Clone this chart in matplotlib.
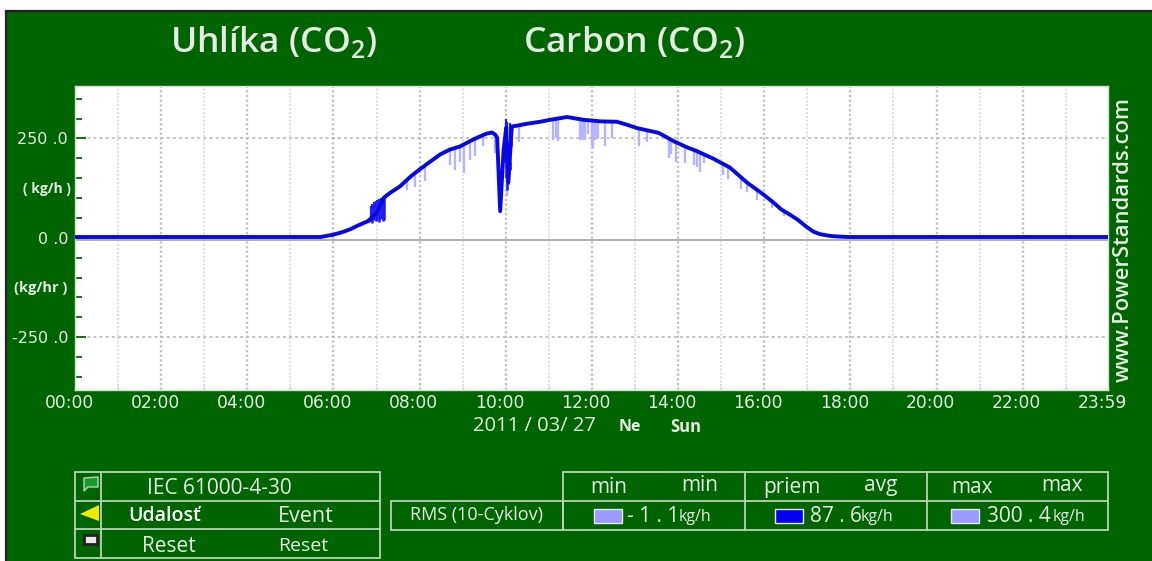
#!/usr/bin/env python3
import numpy as np
import matplotlib
matplotlib.use('Agg')
import matplotlib.pyplot as plt
from matplotlib.patches import Rectangle, Polygon
from matplotlib.transforms import ScaledTranslation

plt.rcParams['font.family'] = ['Open Sans', 'DejaVu Sans']
plt.rcParams['mathtext.fontset'] = 'custom'
plt.rcParams['mathtext.rm'] = 'Open Sans:weight=600'

W, H = 1152, 561
GREEN = '#006400'
LINE = '#b9d3b4'
TXT = '#e4eee2'

# average curve (hour of day, kg/h)
avg_hours = [0, 2, 4, 5.7, 6.0, 6.2, 6.4, 6.55, 6.8, 7.0, 7.1, 7.16, 7.3, 7.55, 7.8, 8.0, 8.2,
             8.48, 8.7, 8.94, 9.2, 9.4, 9.55, 9.68, 9.75, 9.8,
             9.87, 9.95, 10.01, 10.06, 10.14, 10.3, 10.49, 10.8, 11.03, 11.2, 11.42, 11.8,
             12.0, 12.2, 12.58, 12.8, 13.05, 13.3, 13.55, 13.9, 14.2, 14.44, 14.82, 15.2,
             15.6, 15.98, 16.2, 16.4, 16.6, 16.77, 17.0, 17.15, 17.3,
             17.46, 17.6, 17.93, 20, 22, 23.98]
avg_vals = [2, 2, 2, 2, 8, 14, 22, 30, 42, 62, 85, 100, 112, 130, 155, 172, 188,
            210, 222, 230, 245, 255, 262, 265, 260, 252,
            67, 222, 277, 139, 280, 283, 287, 292, 297, 300, 304, 297,
            295, 293, 292, 285, 276, 270, 264, 243, 228, 218, 199, 177,
            139, 109, 90, 71, 58, 46, 26, 15, 9,
            6, 4, 2, 2, 2, 2]

# dark noisy dips in the average
dip_hours = [6.82, 6.86, 6.9, 6.94, 6.98, 7.02, 7.06, 7.1, 7.14, 7.18,
             9.98, 10.0, 10.03, 10.06, 10.09, 10.12]
dip_vals = [40, 42, 38, 44, 42, 46, 40, 48, 42, 46,
            190, 150, 120, 135, 170, 230]
# dark upward noise in the same stretches
peak_hours = [6.86, 6.9, 6.94, 6.98, 7.02, 7.06, 7.1, 10.0, 10.03, 10.09]
peak_vals = [80, 85, 90, 92, 96, 98, 100, 298, 292, 290]

# light min spikes
min_hours = [7.7, 7.9, 8.13, 8.71, 8.83, 8.94, 9.04, 9.18, 9.29, 9.48, 9.76, 10.03, 10.3,
             11.1, 11.16, 11.22, 11.73, 11.76, 11.8, 11.85, 11.9, 12.0, 12.03, 12.08, 12.12, 12.15,
             12.31, 12.47, 13.1, 13.28, 13.78, 13.84, 13.96, 14.15, 14.36, 14.44, 14.52, 14.6,
             15.04, 15.16, 15.45, 15.6, 15.83, 16.18, 16.45]
min_vals = [120, 129, 142, 184, 170, 190, 162, 197, 205, 230, 214, 105, 240,
            247, 252, 243, 247, 248, 246, 245, 262, 230, 226, 245, 248, 250,
            232, 250, 230, 240, 202, 210, 190, 187, 182, 178, 165, 189,
            159, 147, 124, 115, 94, 76, 55]

time_labels = ['00:00', '02:00', '04:00', '06:00', '08:00', '10:00', '12:00',
               '14:00', '16:00', '18:00', '20:00', '22:00', '23:59']
time_ticks = [0, 2, 4, 6, 8, 10, 12, 14, 16, 18, 20, 22, 23.98]
y_ticks = [250, 0, -250]
y_labels = ['250 .0', '0 .0', '-250 .0']

fig = plt.figure(figsize=(W / 100, H / 100), dpi=100, facecolor='white')

# page overlay in pixel coords
bg = fig.add_axes([0, 0, 1, 1], zorder=0)
bg.set_xlim(0, W)
bg.set_ylim(H, 0)
bg.axis('off')
bg.add_patch(Rectangle((6, 11), 1160, 560, fc=GREEN, ec='#222222', lw=1.6))

ax = fig.add_axes([75 / W, 1 - 390 / H, (1108 - 75) / W, (390 - 86) / H], zorder=1)
ax.set_facecolor('white')
ax.set_xlim(0, 23.98)
ax.set_ylim(-383, 382)
for s in ax.spines.values():
    s.set_color('#d5e4d2')
    s.set_linewidth(1.0)

for h in range(1, 24):
    ax.axvline(h, color='#c4c4c4' if h % 2 == 0 else '#dcdcdc',
               lw=1.7 if h % 2 == 0 else 1.4, ls=(0, (1, 1)), zorder=1)
for v in [250, -250]:
    ax.axhline(v, color='#b5b5b5', lw=1.1, ls=(0, (2, 2)), zorder=1)
ax.axhline(-5, color='#a8a8a8', lw=1.3, zorder=1)

base = np.interp(min_hours, avg_hours, avg_vals)
ax.vlines(min_hours, min_vals, base, color='#b4b4ff', lw=1.7, zorder=2)
base2 = np.interp(dip_hours, avg_hours, avg_vals)
ax.vlines(dip_hours, dip_vals, base2, color='#1a1aee', lw=1.8, zorder=3)
base3 = np.interp(peak_hours, avg_hours, avg_vals)
ax.vlines(peak_hours, base3, peak_vals, color='#2020f0', lw=1.6, zorder=3)
ax.plot(avg_hours, avg_vals, color='#0808e6', lw=2.8, solid_joinstyle='round', zorder=4)

ax.set_xticks(time_ticks)
ax.set_xticklabels(time_labels, fontsize=12.3, color=TXT, family='DejaVu Sans')
ax.set_xticks(np.arange(1, 24, 1), minor=True)
ax.tick_params(axis='x', which='both', length=3, width=1, color='#d8d8d8', direction='in', pad=3)
shift = ScaledTranslation(-6 / 100, 0, fig.dpi_scale_trans)
for lab in ax.get_xticklabels():
    lab.set_transform(lab.get_transform() + shift)
ax.set_yticks(y_ticks)
ax.set_yticklabels(y_labels, fontsize=11.5, color=TXT, family='DejaVu Sans')
ax.set_yticks(np.arange(-350, 351, 50), minor=True)
ax.tick_params(axis='y', which='major', length=8, width=1.3, color=GREEN, direction='in', pad=5)
ax.tick_params(axis='y', which='minor', length=5, width=1.3, color=GREEN, direction='in')

bg.text(274, 42, 'Uhlíka (CO$_{\\mathrm{2}}$)', color=TXT, fontsize=25.5, weight='semibold', ha='center', va='center')
bg.text(634, 42, 'Carbon (CO$_{\\mathrm{2}}$)', color=TXT, fontsize=25.5, weight='semibold', ha='center', va='center')
bg.text(47, 189, '( kg/h )', color=TXT, fontsize=10, weight='bold', ha='center', va='center')
bg.text(41, 288, '(kg/hr )', color=TXT, fontsize=10.5, weight='bold', ha='center', va='center')
bg.text(1123, 239, 'www.PowerStandards.com', color=TXT, fontsize=15.8, weight='semibold', rotation=90, ha='center', va='center')
bg.text(473, 426, '2011 / 03/ 27', color=TXT, fontsize=14.5, ha='left', va='center')
bg.text(630, 427, 'Ne', color=TXT, fontsize=11.5, weight='bold', ha='center', va='center')
bg.text(686, 427, 'Sun', color=TXT, fontsize=12, weight='bold', ha='center', va='center')


def box(x0, y0, x1, y1):
    bg.add_patch(Rectangle((x0, y0), x1 - x0, y1 - y0, fc='none', ec=LINE, lw=1.3))


# left legend
box(75, 472, 380, 558)
bg.plot([75, 380], [501, 501], color=LINE, lw=1.3)
bg.plot([75, 380], [529, 529], color=LINE, lw=1.3)
bg.plot([101, 101], [472, 558], color=LINE, lw=1.3)
bg.add_patch(Polygon([[84, 478], [98, 477], [98, 487], [88, 487], [84, 491]], fc='#1a9a2a', ec=LINE, lw=1))
bg.add_patch(Polygon([[80, 514], [99, 505], [99, 521]], fc='#f2e800', ec='none', zorder=3))
bg.add_patch(Rectangle((84, 535), 13, 9, fc='#e8e8e8', ec='#222222', lw=2, zorder=3))
bg.text(219, 488, 'IEC 61000-4-30', color=TXT, fontsize=15, ha='center', va='center')
bg.text(165, 516, 'Udalosť', color='white', fontsize=14, weight='semibold', ha='center', va='center')
bg.text(306, 516, 'Event', color=TXT, fontsize=15.5, ha='center', va='center')
bg.text(169, 546, 'Reset', color=TXT, fontsize=15, ha='center', va='center')
bg.text(303, 546, 'Reset', color=TXT, fontsize=14, ha='center', va='center')

# right stats table
box(391, 501, 563, 530)
bg.text(477, 515, 'RMS (10-Cyklov)', color=TXT, fontsize=13, ha='center', va='center')
box(563, 472, 1108, 530)
bg.plot([563, 1108], [501, 501], color=LINE, lw=1.3)
for xv in [745, 927]:
    bg.plot([xv, xv], [472, 530], color=LINE, lw=1.3)
heads = [('min', 609, 487), ('min', 700, 485), ('priem', 792, 487), ('avg', 881, 485),
         ('max', 972, 487), ('max', 1062, 485)]
for t, xv, yv in heads:
    bg.text(xv, yv, t, color=TXT, fontsize=15, ha='center', va='center')
swatches = [(594, '#9a9aff'), (775, '#0000f0'), (951, '#9a9aff')]
for xv, col in swatches:
    bg.add_patch(Rectangle((xv, 509), 28, 14, fc=col, ec='#e8e8e8', lw=1))
bg.text(627, 516, '- 1 . 1', color=TXT, fontsize=15, ha='left', va='center')
bg.text(679, 517, 'kg/h', color=TXT, fontsize=11.5, ha='left', va='center')
bg.text(810, 516, '87 . 6', color=TXT, fontsize=15, ha='left', va='center')
bg.text(861, 517, 'kg/h', color=TXT, fontsize=11.5, ha='left', va='center')
bg.text(987, 516, '300 . 4', color=TXT, fontsize=15, ha='left', va='center')
bg.text(1053, 517, 'kg/h', color=TXT, fontsize=11.5, ha='left', va='center')

fig.savefig('out.png', dpi=100)
